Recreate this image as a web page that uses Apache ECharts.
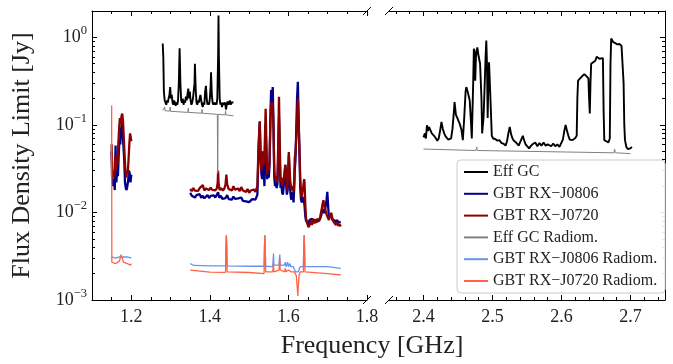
<!DOCTYPE html>
<html><head><meta charset="utf-8">
<script src="https://cdn.jsdelivr.net/npm/echarts@6/dist/echarts.min.js"></script>
<style>html,body{margin:0;padding:0;background:#fff}#c{width:673px;height:364px}</style>
</head><body><div id="c"></div>
<script>
const FONT = '"Liberation Serif", "DejaVu Serif", serif';

// ---- tick definitions ----
const xMajorLeft = [1.2, 1.4, 1.6, 1.8];
const xMinorLeft = [1.15, 1.25, 1.3, 1.35, 1.45, 1.5, 1.55, 1.65, 1.7, 1.75];
const xMajorRight = [2.4, 2.5, 2.6, 2.7];
const xMinorRight = [2.36, 2.38, 2.42, 2.44, 2.46, 2.48, 2.52, 2.54, 2.56, 2.58, 2.62, 2.64, 2.66, 2.68, 2.72, 2.74];
const yMajor = [0.001, 0.01, 0.1, 1];
const yMinor = [0.002,0.003,0.004,0.005,0.006,0.007,0.008,0.009,0.02,0.03,0.04,0.05,0.06,0.07,0.08,0.09,0.2,0.3,0.4,0.5,0.6,0.7,0.8,0.9];

// ---- series names ----
const names = ['Eff GC', 'GBT RX\u2212J0806', 'GBT RX\u2212J0720', 'Eff GC Radiom.', 'GBT RX\u2212J0806 Radiom.', 'GBT RX\u2212J0720 Radiom.'];

// ---- data [GHz, Jy] ----
const effGcLeft = [[1.280,0.85],[1.2815,0.6],[1.283,0.24],[1.285,0.19],[1.287,0.2],[1.289,0.17],[1.291,0.19],[1.293,0.18],[1.295,0.2],[1.297,0.22],[1.299,0.27],[1.301,0.2],[1.303,0.22],[1.305,0.18],[1.307,0.17],[1.309,0.19],[1.311,0.18],[1.313,0.165],[1.315,0.18],[1.317,0.17],[1.319,0.19],[1.321,0.3],[1.323,0.75],[1.325,0.3],[1.327,0.19],[1.329,0.18],[1.331,0.2],[1.333,0.17],[1.335,0.19],[1.337,0.18],[1.339,0.21],[1.341,0.19],[1.343,0.2],[1.345,0.26],[1.347,0.2],[1.349,0.24],[1.351,0.19],[1.353,0.17],[1.355,0.18],[1.357,0.2],[1.359,0.19],[1.361,0.3],[1.362,0.5],[1.364,0.25],[1.366,0.18],[1.368,0.17],[1.370,0.19],[1.372,0.18],[1.374,0.2],[1.376,0.22],[1.378,0.19],[1.380,0.17],[1.382,0.16],[1.384,0.18],[1.386,0.17],[1.388,0.24],[1.390,0.28],[1.392,0.2],[1.394,0.17],[1.396,0.18],[1.398,0.17],[1.400,0.2],[1.402,0.28],[1.403,0.4],[1.405,0.22],[1.407,0.18],[1.409,0.17],[1.411,0.18],[1.413,0.17],[1.415,0.18],[1.417,0.17],[1.419,0.2],[1.421,0.6],[1.422,1.78],[1.423,0.6],[1.425,0.2],[1.427,0.17],[1.429,0.18],[1.431,0.16],[1.433,0.18],[1.435,0.17],[1.437,0.165],[1.439,0.18],[1.441,0.15],[1.443,0.17],[1.445,0.185],[1.447,0.17],[1.449,0.18],[1.451,0.19],[1.453,0.17],[1.455,0.18],[1.457,0.185],[1.460,0.18]];

const effGcRight = [[2.400,0.072],[2.402,0.08],[2.4035,0.07],[2.405,0.099],[2.4065,0.085],[2.408,0.095],[2.410,0.087],[2.412,0.08],[2.414,0.082],[2.416,0.074],[2.418,0.07],[2.420,0.066],[2.422,0.07],[2.424,0.085],[2.426,0.108],[2.428,0.09],[2.430,0.08],[2.432,0.074],[2.434,0.072],[2.436,0.068],[2.438,0.066],[2.440,0.07],[2.442,0.09],[2.444,0.14],[2.445,0.182],[2.447,0.13],[2.449,0.12],[2.451,0.11],[2.453,0.1],[2.455,0.088],[2.457,0.067],[2.459,0.12],[2.461,0.24],[2.462,0.27],[2.464,0.24],[2.465,0.25],[2.467,0.19],[2.469,0.1],[2.470,0.07],[2.472,0.3],[2.473,0.74],[2.474,0.7],[2.475,0.32],[2.476,0.6],[2.478,0.77],[2.480,0.6],[2.482,0.5],[2.484,0.2],[2.485,0.08],[2.487,0.12],[2.488,0.2],[2.490,0.6],[2.491,0.92],[2.492,0.5],[2.493,0.12],[2.494,0.3],[2.495,0.52],[2.497,0.2],[2.499,0.075],[2.501,0.07],[2.504,0.069],[2.507,0.066],[2.510,0.067],[2.513,0.062],[2.516,0.061],[2.519,0.058],[2.521,0.065],[2.523,0.08],[2.525,0.095],[2.527,0.078],[2.529,0.07],[2.531,0.066],[2.534,0.063],[2.536,0.06],[2.538,0.058],[2.541,0.066],[2.544,0.075],[2.546,0.066],[2.548,0.06],[2.550,0.058],[2.553,0.054],[2.556,0.058],[2.559,0.061],[2.562,0.063],[2.565,0.057],[2.568,0.062],[2.571,0.058],[2.574,0.063],[2.577,0.058],[2.580,0.06],[2.582,0.063],[2.585,0.057],[2.588,0.061],[2.591,0.057],[2.594,0.06],[2.597,0.056],[2.599,0.059],[2.602,0.068],[2.604,0.085],[2.606,0.1],[2.608,0.085],[2.610,0.075],[2.612,0.068],[2.614,0.066],[2.616,0.067],[2.618,0.07],[2.620,0.071],[2.622,0.075],[2.623,0.2],[2.624,0.32],[2.627,0.34],[2.630,0.36],[2.633,0.38],[2.636,0.36],[2.639,0.34],[2.640,0.2],[2.641,0.135],[2.642,0.3],[2.643,0.5],[2.646,0.52],[2.649,0.54],[2.651,0.6],[2.653,0.58],[2.655,0.57],[2.657,0.6],[2.660,0.58],[2.661,0.15],[2.662,0.067],[2.665,0.065],[2.668,0.063],[2.670,0.07],[2.671,0.5],[2.672,0.97],[2.675,0.88],[2.678,0.86],[2.681,0.83],[2.684,0.84],[2.687,0.8],[2.689,0.77],[2.690,0.3],[2.691,0.1],[2.692,0.067],[2.694,0.056],[2.696,0.053],[2.698,0.055],[2.700,0.054],[2.702,0.056]];

const gbt0806 = [[1.150,0.05],[1.152,0.022],[1.154,0.02],[1.156,0.024],[1.158,0.018],[1.160,0.058],[1.162,0.022],[1.164,0.03],[1.166,0.026],[1.168,0.045],[1.170,0.07],[1.172,0.06],[1.174,0.09],[1.176,0.1],[1.178,0.08],[1.180,0.058],[1.182,0.04],[1.184,0.022],[1.186,0.019],[1.188,0.018],[1.190,0.02],[1.192,0.023],[1.194,0.03],[1.196,0.028],[1.198,0.022],[1.200,0.027],[1.27,'-'],
[1.350,0.0168],[1.354,0.0155],[1.358,0.016],[1.362,0.0148],[1.366,0.0158],[1.370,0.015],[1.374,0.0162],[1.378,0.0147],[1.382,0.0155],[1.386,0.0145],[1.390,0.0152],[1.394,0.0158],[1.398,0.0146],[1.402,0.0155],[1.406,0.0149],[1.410,0.0157],[1.414,0.0148],[1.418,0.0153],[1.421,0.017],[1.424,0.0147],[1.428,0.0155],[1.432,0.0143],[1.436,0.015],[1.440,0.0146],[1.444,0.0158],[1.448,0.0142],[1.452,0.0149],[1.456,0.014],[1.460,0.0152],[1.464,0.0143],[1.468,0.0137],[1.472,0.0145],[1.476,0.0139],[1.480,0.0148],[1.484,0.0136],[1.488,0.0142],[1.492,0.0134],[1.496,0.0139],[1.500,0.0131],[1.504,0.0137],[1.508,0.0142],[1.512,0.0135],[1.516,0.014],[1.519,0.0145],
[1.521,0.016],[1.524,0.05],[1.527,0.11],[1.529,0.045],[1.531,0.028],[1.533,0.024],[1.535,0.05],[1.537,0.03],[1.539,0.02],[1.541,0.07],[1.542,0.1],[1.544,0.04],[1.546,0.024],[1.548,0.028],[1.550,0.025],[1.552,0.035],[1.554,0.12],[1.556,0.25],[1.558,0.2],[1.560,0.27],[1.562,0.1],[1.564,0.025],[1.566,0.02],[1.568,0.022],[1.570,0.019],[1.572,0.021],[1.574,0.04],[1.576,0.12],[1.578,0.04],[1.580,0.019],[1.582,0.021],[1.584,0.017],[1.586,0.016],[1.588,0.02],[1.590,0.026],[1.592,0.035],[1.594,0.022],[1.596,0.016],[1.598,0.018],[1.600,0.03],[1.601,0.045],[1.603,0.025],[1.605,0.017],[1.607,0.014],[1.609,0.015],[1.611,0.017],[1.613,0.013],[1.615,0.02],[1.616,0.03],[1.618,0.04],[1.620,0.091],[1.622,0.2],[1.624,0.31],[1.626,0.12],[1.628,0.05],[1.630,0.02],[1.632,0.014],[1.634,0.013],[1.636,0.014],[1.638,0.015],[1.640,0.013],[1.641,0.012],[1.643,0.009],[1.645,0.008],
[1.648,0.008],[1.651,0.0075],[1.654,0.0082],[1.657,0.0078],[1.660,0.0085],[1.663,0.0077],[1.666,0.0083],[1.669,0.0076],[1.672,0.0084],[1.675,0.0079],[1.678,0.0082],[1.681,0.0085],[1.684,0.0095],[1.687,0.011],[1.689,0.0105],[1.691,0.0098],[1.694,0.0112],[1.697,0.014],[1.699,0.0172],[1.701,0.012],[1.703,0.0088],[1.706,0.0085],[1.709,0.0092],[1.712,0.0082],[1.715,0.0078],[1.718,0.0081],[1.721,0.0076],[1.724,0.0082],[1.727,0.0077],[1.730,0.008],[1.733,0.0078]];

const gbt0720 = [[1.150,0.06],[1.151,0.025],[1.153,0.024],[1.155,0.03],[1.157,0.025],[1.159,0.045],[1.161,0.03],[1.163,0.04],[1.165,0.035],[1.167,0.06],[1.169,0.09],[1.171,0.12],[1.173,0.1],[1.175,0.125],[1.177,0.135],[1.179,0.11],[1.181,0.07],[1.183,0.045],[1.185,0.03],[1.187,0.025],[1.189,0.03],[1.191,0.028],[1.193,0.04],[1.195,0.06],[1.197,0.08],[1.199,0.07],[1.200,0.065],[1.27,'-'],
[1.350,0.0185],[1.354,0.0175],[1.358,0.019],[1.362,0.0178],[1.366,0.0186],[1.370,0.0176],[1.374,0.019],[1.378,0.0182],[1.382,0.0205],[1.386,0.0178],[1.390,0.0188],[1.394,0.0198],[1.398,0.018],[1.402,0.0192],[1.406,0.0181],[1.410,0.0189],[1.414,0.0179],[1.418,0.019],[1.420,0.022],[1.421,0.03],[1.422,0.022],[1.425,0.018],[1.429,0.019],[1.433,0.0178],[1.437,0.0188],[1.440,0.021],[1.442,0.027],[1.444,0.021],[1.448,0.0185],[1.452,0.0192],[1.456,0.0178],[1.460,0.02],[1.464,0.0182],[1.468,0.0176],[1.472,0.0188],[1.476,0.0175],[1.480,0.0195],[1.484,0.0178],[1.488,0.0183],[1.492,0.0172],[1.496,0.0185],[1.500,0.0168],[1.504,0.0178],[1.508,0.0171],[1.512,0.0183],[1.516,0.0172],[1.519,0.0175],
[1.521,0.02],[1.524,0.06],[1.527,0.108],[1.529,0.05],[1.531,0.03],[1.533,0.04],[1.535,0.049],[1.537,0.035],[1.539,0.045],[1.541,0.1],[1.542,0.153],[1.544,0.06],[1.546,0.027],[1.548,0.035],[1.550,0.03],[1.552,0.041],[1.554,0.1],[1.556,0.18],[1.558,0.17],[1.560,0.18],[1.562,0.09],[1.564,0.03],[1.566,0.024],[1.568,0.026],[1.570,0.022],[1.572,0.024],[1.574,0.06],[1.576,0.21],[1.578,0.06],[1.580,0.022],[1.582,0.025],[1.584,0.02],[1.586,0.019],[1.588,0.024],[1.590,0.028],[1.592,0.035],[1.594,0.03],[1.596,0.018],[1.598,0.022],[1.600,0.035],[1.601,0.049],[1.603,0.03],[1.605,0.022],[1.607,0.019],[1.609,0.018],[1.611,0.02],[1.613,0.017],[1.615,0.025],[1.616,0.041],[1.618,0.05],[1.620,0.07],[1.622,0.12],[1.624,0.2],[1.626,0.1],[1.628,0.054],[1.630,0.025],[1.632,0.016],[1.634,0.015],[1.636,0.018],[1.638,0.02],[1.640,0.024],[1.641,0.022],[1.643,0.012],[1.645,0.0085],
[1.648,0.0075],[1.651,0.0068],[1.654,0.0072],[1.657,0.008],[1.660,0.0072],[1.663,0.0085],[1.666,0.0075],[1.669,0.0082],[1.672,0.0077],[1.675,0.0085],[1.678,0.0079],[1.681,0.009],[1.684,0.0105],[1.687,0.0125],[1.689,0.0138],[1.691,0.012],[1.694,0.0118],[1.697,0.0095],[1.700,0.0088],[1.703,0.0082],[1.706,0.0092],[1.709,0.0099],[1.712,0.0085],[1.715,0.0078],[1.718,0.0077],[1.721,0.0072],[1.724,0.0078],[1.727,0.007],[1.730,0.0074],[1.733,0.0069]];

const effGcRadLeft = [[1.28,0.146],[1.284,0.145],[1.285,0.16],[1.286,0.145],[1.298,0.144],[1.299,0.16],[1.300,0.143],[1.344,0.139],[1.345,0.155],[1.346,0.139],[1.379,0.136],[1.380,0.15],[1.381,0.136],[1.419,0.132],[1.420,0.028],[1.421,0.132],[1.439,0.13],[1.440,0.145],[1.441,0.13],[1.46,0.127]];
const effGcRadRight = [[2.40,0.053],[2.476,0.051],[2.477,0.056],[2.478,0.051],[2.676,0.048],[2.677,0.053],[2.678,0.048],[2.70,0.047]];

const gbt0806Rad = [[1.150,0.0031],[1.155,0.0031],[1.160,0.003],[1.165,0.0031],[1.170,0.0031],[1.175,0.0032],[1.180,0.0031],[1.185,0.003],[1.190,0.0031],[1.195,0.003],[1.200,0.003],[1.27,'-'],
[1.350,0.0026],[1.352,0.0025],[1.36,0.00248],[1.40,0.00245],[1.440,0.00245],[1.441,0.004],[1.442,0.0055],[1.443,0.004],[1.444,0.00245],[1.50,0.00243],[1.538,0.00243],[1.539,0.004],[1.540,0.0055],[1.541,0.004],[1.542,0.00243],[1.560,0.0024],[1.561,0.0028],[1.562,0.0034],[1.563,0.0025],[1.576,0.0025],[1.577,0.003],[1.578,0.0033],[1.579,0.0025],[1.59,0.0025],[1.592,0.0027],[1.594,0.0024],[1.598,0.0027],[1.600,0.0024],[1.604,0.0026],[1.606,0.0024],[1.612,0.0024],[1.618,0.0021],[1.622,0.002],[1.625,0.0021],[1.630,0.0024],[1.638,0.0024],[1.639,0.004],[1.640,0.0055],[1.641,0.004],[1.642,0.0024],[1.70,0.0024],[1.733,0.0023]];
const gbt0720Rad = [[1.150,0.167],[1.1505,0.0027],[1.155,0.0026],[1.160,0.0026],[1.165,0.0026],[1.170,0.0028],[1.174,0.0033],[1.177,0.003],[1.180,0.0027],[1.185,0.0026],[1.190,0.0026],[1.195,0.0027],[1.198,0.0025],[1.200,0.0026],[1.27,'-'],
[1.350,0.0022],[1.352,0.0021],[1.40,0.00208],[1.440,0.00207],[1.441,0.004],[1.442,0.0055],[1.443,0.004],[1.444,0.0021],[1.50,0.00206],[1.538,0.002],[1.539,0.004],[1.540,0.0055],[1.541,0.004],[1.542,0.0021],[1.560,0.0021],[1.562,0.0026],[1.563,0.0021],[1.576,0.0022],[1.578,0.003],[1.579,0.0022],[1.59,0.0021],[1.592,0.0023],[1.594,0.0021],[1.600,0.0022],[1.604,0.0023],[1.606,0.0021],[1.615,0.0021],[1.620,0.0019],[1.623,0.0013],[1.624,0.00111],[1.625,0.0014],[1.627,0.0019],[1.630,0.0021],[1.638,0.0021],[1.639,0.004],[1.640,0.0055],[1.641,0.004],[1.642,0.0021],[1.70,0.002],[1.733,0.00193]];

// ---- layout ----
const TOP = 11, H = 289;
const chart = echarts.init(document.getElementById('c'), null, {renderer: 'canvas'});

const BLACK = '#000';
function xAxes(grid, min, max, majors, minors, pos, labels) {
  const base = {type: 'value', gridIndex: grid, min, max, position: pos, splitLine: {show: false}};
  return [
    Object.assign({}, base, {
      axisLine: {show: true, onZero: false, lineStyle: {color: BLACK, width: 1}},
      axisTick: {show: true, inside: true, length: 3, customValues: minors, lineStyle: {color: BLACK, width: 1}},
      axisLabel: {show: false}
    }),
    Object.assign({}, base, {
      axisLine: {show: false, onZero: false},
      axisTick: {show: true, inside: true, length: 5, customValues: majors, lineStyle: {color: BLACK, width: 1}},
      axisLabel: labels ? {show: true, customValues: majors, margin: 8, fontSize: 18, fontFamily: FONT, color: '#222',
        formatter: v => (+v).toFixed(1)} : {show: false}
    })
  ];
}
function yAxes(grid, pos, labels) {
  const base = {type: 'log', logBase: 10, gridIndex: grid, min: 0.001, max: 2, position: pos, splitLine: {show: false}};
  const sup = {'-3': '\u22123', '-2': '\u22122', '-1': '\u22121', '0': '0'};
  return [
    Object.assign({}, base, {
      axisLine: {show: true, onZero: false, lineStyle: {color: BLACK, width: 1}},
      axisTick: {show: true, inside: true, length: 5, customValues: yMajor, lineStyle: {color: BLACK, width: 1}},
      axisLabel: labels ? {show: true, customValues: yMajor, margin: 5,
        formatter: v => '{b|10}{s|' + sup[String(Math.round(Math.log10(v)))] + '}',
        rich: {b: {fontSize: 18, fontFamily: FONT, color: '#222', lineHeight: 26},
               s: {fontSize: 12.5, fontFamily: FONT, color: '#222', lineHeight: 12, verticalAlign: 'top'}}} : {show: false},
      name: labels ? 'Flux Density Limit [Jy]' : '', nameLocation: 'middle', nameGap: 57, nameRotate: 90,
      nameTextStyle: {fontSize: 26, fontFamily: FONT, color: '#222'}
    }),
    Object.assign({}, base, {
      axisLine: {show: false, onZero: false},
      axisTick: {show: true, inside: true, length: 3, customValues: yMinor, lineStyle: {color: BLACK, width: 1}},
      axisLabel: {show: false}
    })
  ];
}

const xAxis = [].concat(
  xAxes(0, 1.1, 1.8, xMajorLeft, xMinorLeft, 'bottom', true),   // 0,1
  xAxes(0, 1.1, 1.8, xMajorLeft, xMinorLeft, 'top', false),     // 2,3
  xAxes(1, 2.35, 2.75, xMajorRight, xMinorRight, 'bottom', true), // 4,5
  xAxes(1, 2.35, 2.75, xMajorRight, xMinorRight, 'top', false)    // 6,7
);
const yAxis = [].concat(yAxes(0, 'left', true), yAxes(1, 'right', false)); // 0,1 ; 2,3

function line(name, data, color, width, xi, yi) {
  return {type: 'line', name, data, xAxisIndex: xi, yAxisIndex: yi, symbol: 'none', showSymbol: false,
    lineStyle: {color, width}, itemStyle: {color}, color, connectNulls: false, animation: false,
    emphasis: {disabled: true}, silent: true, clip: true};
}

const series = [
  line(names[0], effGcLeft, '#000000', 1.9, 0, 0),
  line(names[0], effGcRight, '#000000', 1.9, 4, 2),
  line(names[1], gbt0806, '#00008b', 2.3, 0, 0),
  line(names[2], gbt0720, '#8b0000', 2.3, 0, 0),
  line(names[3], effGcRadLeft, '#808080', 1, 0, 0),
  line(names[3], effGcRadRight, '#808080', 1, 4, 2),
  line(names[4], gbt0806Rad, '#6495ed', 1.3, 0, 0),
  line(names[5], gbt0720Rad, '#ff6347', 1.3, 0, 0)
];

function brk(x, y) {
  return {type: 'line', shape: {x1: x - 4, y1: y + 4, x2: x + 4, y2: y - 4}, style: {stroke: '#000', lineWidth: 1}, z: 100};
}

chart.setOption({
  backgroundColor: '#fff',
  animation: false,
  grid: [
    {left: 92, top: TOP, width: 275, height: H, containLabel: false, outerBoundsMode: 'none'},
    {left: 389, top: TOP, width: 276, height: H, containLabel: false, outerBoundsMode: 'none'}
  ],
  xAxis, yAxis, series,
  legend: {
    data: names, orient: 'vertical', left: 457, top: 160,
    itemWidth: 24, itemHeight: 12, itemGap: 5.8,
    padding: [4, 8, 4, 6],
    itemStyle: {opacity: 0},
    backgroundColor: 'rgba(255,255,255,0.9)', borderColor: '#cccccc', borderWidth: 1, borderRadius: 4,
    textStyle: {fontSize: 16, fontFamily: FONT, color: '#222', lineHeight: 16},
    selectedMode: false, z: 50
  },
  graphic: [
    brk(367, TOP), brk(367, TOP + H), brk(389, TOP), brk(389, TOP + H),
    {type: 'text', x: 372, y: 346, style: {text: 'Frequency [GHz]', font: '26px ' + FONT, fill: '#222', textAlign: 'center', textVerticalAlign: 'middle'}}
  ]
});
</script></body></html>
